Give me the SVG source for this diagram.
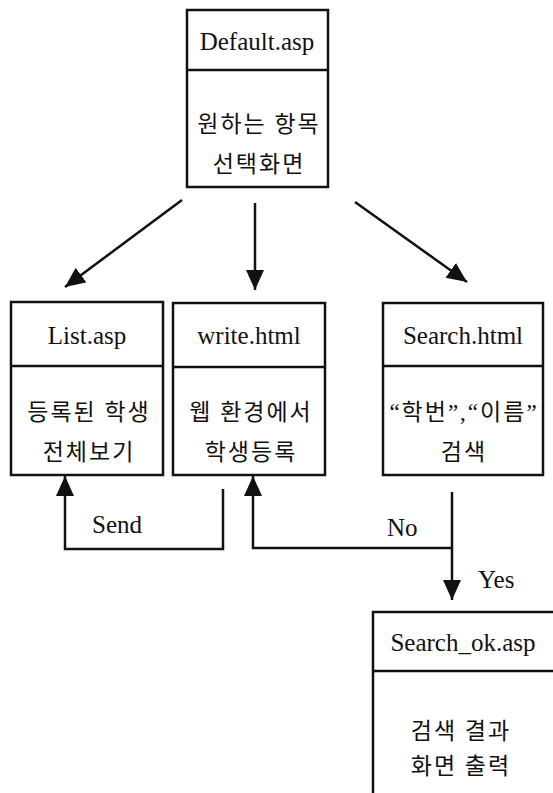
<svg xmlns="http://www.w3.org/2000/svg" width="553" height="793" viewBox="0 0 553 793">
  <style>
    .box { fill: #ffffff; stroke: #111111; stroke-width: 2.5; }
    .div { stroke: #111111; stroke-width: 2.5; fill: none; }
    .title { font-family: "Liberation Serif", "Noto Sans CJK KR", serif; font-size: 25px; fill: #111111; text-anchor: middle; }
    .kr { font-family: "Liberation Serif", "Noto Sans CJK KR", serif; font-size: 23px; letter-spacing: 2px; fill: #111111; text-anchor: middle; }
    .lbl { font-family: "Liberation Serif", serif; font-size: 25px; fill: #111111; }
    .wire { stroke: #111111; stroke-width: 2.5; fill: none; }
  </style>
  <defs>
    <marker id="head" markerUnits="userSpaceOnUse" markerWidth="22" markerHeight="20" refX="20" refY="9" orient="auto">
      <path d="M0,0 L20,9 L0,18 Z" fill="#111111"/>
    </marker>
  </defs>
  <rect width="553" height="793" fill="#ffffff"/>

  <g id="default-asp">
    <rect class="box" x="187" y="10" width="141" height="177"/>
    <line class="div" x1="187" y1="70" x2="328" y2="70"/>
    <text class="title" x="257" y="50">Default.asp</text>
    <text class="kr" x="259" y="132">원하는 항목</text>
    <text class="kr" x="259" y="172">선택화면</text>
  </g>

  <g id="list-asp">
    <rect class="box" x="11" y="302" width="152" height="173"/>
    <line class="div" x1="11" y1="366" x2="163" y2="366"/>
    <text class="title" x="87" y="344">List.asp</text>
    <text class="kr" x="89" y="420">등록된 학생</text>
    <text class="kr" x="89" y="460">전체보기</text>
  </g>

  <g id="write-html">
    <rect class="box" x="173" y="303" width="152" height="172"/>
    <line class="div" x1="173" y1="367" x2="325" y2="367"/>
    <text class="title" x="249" y="344">write.html</text>
    <text class="kr" x="251" y="420">웹 환경에서</text>
    <text class="kr" x="251" y="460">학생등록</text>
  </g>

  <g id="search-html">
    <rect class="box" x="383" y="303" width="160" height="172"/>
    <line class="div" x1="383" y1="366" x2="543" y2="366"/>
    <text class="title" x="463" y="344">Search.html</text>
    <text class="kr" x="464" y="420">“학번”,“이름”</text>
    <text class="kr" x="464" y="460">검색</text>
  </g>

  <g id="search-ok-asp">
    <path class="div" d="M373,800 L373,612 L560,612"/>
    <line class="div" x1="373" y1="671" x2="560" y2="671"/>
    <text class="title" x="463" y="651">Search_ok.asp</text>
    <text class="kr" x="461" y="739">검색 결과</text>
    <text class="kr" x="461" y="774">화면 출력</text>
  </g>

  <g id="connectors">
    <line class="wire" x1="182" y1="200" x2="65" y2="287" marker-end="url(#head)"/>
    <line class="wire" x1="255" y1="203" x2="255" y2="290" marker-end="url(#head)"/>
    <line class="wire" x1="355" y1="202" x2="467" y2="282" marker-end="url(#head)"/>
    <path class="wire" d="M223,489 L223,549 L65,549 L65,476" marker-end="url(#head)"/>
    <path class="wire" d="M452,548 L253,548 L253,476" marker-end="url(#head)"/>
    <line class="wire" x1="452" y1="492" x2="452" y2="600" marker-end="url(#head)"/>
    <text class="lbl" x="92" y="533">Send</text>
    <text class="lbl" x="387" y="536">No</text>
    <text class="lbl" x="478" y="588">Yes</text>
  </g>
</svg>
